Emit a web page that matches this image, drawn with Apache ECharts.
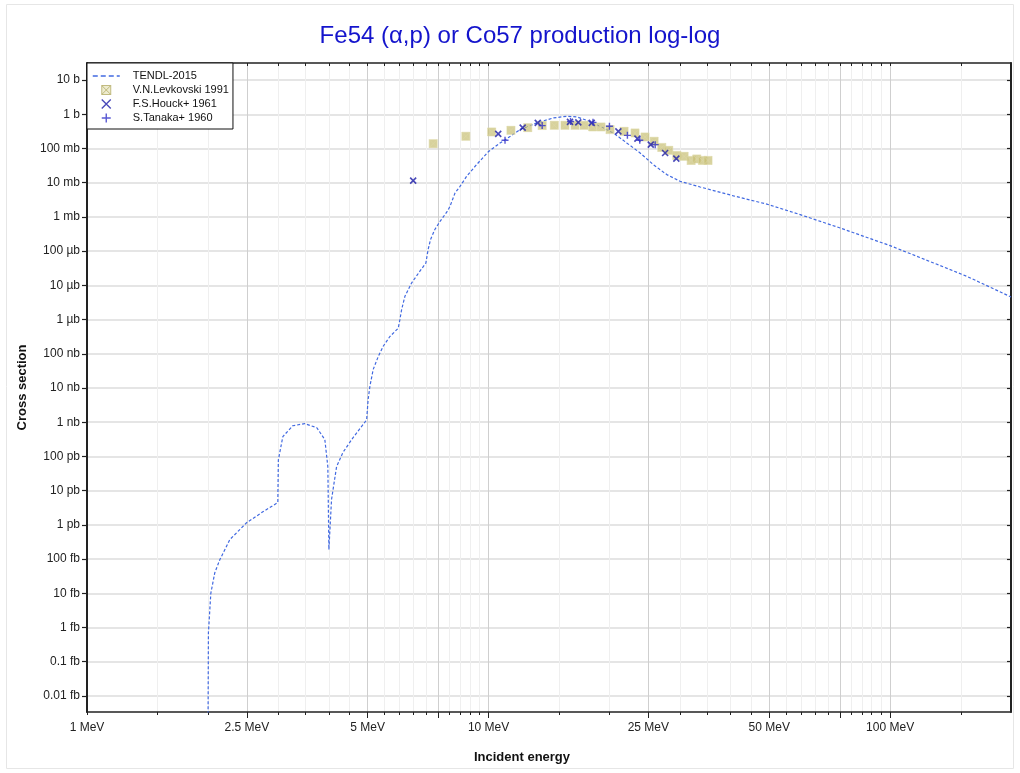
<!DOCTYPE html>
<html><head><meta charset="utf-8">
<script src="https://cdn.jsdelivr.net/npm/echarts@6/dist/echarts.min.js"></script>
<style>html,body{margin:0;padding:0;background:#fff}#c{width:1020px;height:773px}</style>
</head><body><div id="c"></div>
<script>
// ---- data (energy in MeV, cross section in barns) ----
const tendlEnergy = [2.0, 2.006, 2.034, 2.081, 2.141, 2.268, 2.496, 2.741, 2.987, 2.996, 3.074, 3.255, 3.487, 3.736, 3.911, 3.979, 4.003, 4.064, 4.183, 4.337, 4.594, 4.97, 5.013, 5.064, 5.161, 5.312, 5.466, 5.679, 5.957, 6.015, 6.074, 6.19, 6.43, 6.745, 6.98, 7.07, 7.17, 7.35, 7.57, 7.89, 8.01, 8.25, 8.49, 8.82, 9.34, 9.98, 10.68, 11.0, 11.97, 13.18, 14.5, 15.65, 16.58, 17.56, 18.95, 20.45, 22.08, 23.84, 25.73, 27.79, 29.99, 33.64, 40.73, 49.3, 59.7, 75.1, 100, 128.3, 155.4, 200];
const tendlXs = [1e-19, 6.9e-16, 1.0e-14, 4.0e-14, 9.5e-14, 3.7e-13, 1.15e-12, 2.4e-12, 4.5e-12, 7.9e-11, 3.8e-10, 7.9e-10, 9.1e-10, 6.9e-10, 3.1e-10, 5.0e-11, 1.9e-13, 5.5e-12, 5.0e-11, 1.3e-10, 3.5e-10, 1.17e-9, 4.6e-9, 1.12e-8, 3.5e-8, 8.3e-8, 1.66e-7, 3.2e-7, 5.6e-7, 1.0e-6, 1.95e-6, 4.8e-6, 1.17e-5, 2.6e-5, 4.5e-5, 1.1e-4, 2.2e-4, 4.3e-4, 7.4e-4, 1.45e-3, 2.0e-3, 5.0e-3, 7.8e-3, 1.55e-2, 3.4e-2, 8.0e-2, 0.145, 0.18, 0.357, 0.561, 0.785, 0.875, 0.84, 0.668, 0.446, 0.286, 0.146, 0.0743, 0.0338, 0.0173, 0.011, 0.00753, 0.00414, 0.00237, 0.00117, 4.76e-4, 1.45e-4, 4.52e-5, 1.83e-5, 4.58e-6];

const levkovskiEnergy = [7.28, 8.78, 10.18, 11.37, 12.52, 13.6, 14.58, 15.5, 16.42, 17.29, 18.17, 19.06, 20.07, 21.75, 23.16, 24.53, 25.84, 27.0, 28.1, 29.43, 30.69, 31.95, 33.0, 34.09, 35.2];
const levkovskiXs = [0.139, 0.228, 0.306, 0.340, 0.408, 0.47, 0.477, 0.477, 0.477, 0.477, 0.428, 0.428, 0.357, 0.318, 0.286, 0.218, 0.163, 0.108, 0.0885, 0.063, 0.059, 0.045, 0.0497, 0.045, 0.045];

const houckEnergy = [6.49, 10.57, 12.16, 13.26, 15.95, 16.73, 18.07, 21.05, 23.48, 25.35, 27.52, 29.35];
const houckXs = [0.0115, 0.267, 0.408, 0.561, 0.600, 0.583, 0.561, 0.318, 0.195, 0.130, 0.074, 0.0507];

const tanakaEnergy = [10.99, 13.6, 16.0, 18.2, 20.0, 22.17, 23.8, 26.0];
const tanakaXs = [0.174, 0.468, 0.615, 0.583, 0.446, 0.243, 0.174, 0.130];

const seriesNames = ['TENDL-2015', 'V.N.Levkovski 1991', 'F.S.Houck+ 1961', 'S.Tanaka+ 1960'];

// ---- axis ticks / labels ----
const xTickValues = [1, 1.5, 2, 2.5, 3, 3.5, 4, 4.5, 5, 5.5, 6, 6.5, 7, 7.5, 8, 8.5, 9, 9.5, 10, 15, 20, 25, 30, 35, 40, 45, 50, 55, 60, 65, 70, 75, 80, 85, 90, 95, 100, 150];
const xMajorValues = [2.5, 5, 7.5, 10, 25, 50, 75, 100];
const xLabelValues = [1, 2.5, 5, 10, 25, 50, 100];
const xLabelTexts = ['1 MeV', '2.5 MeV', '5 MeV', '10 MeV', '25 MeV', '50 MeV', '100 MeV'];
const yTickExponents = [-17, -16, -15, -14, -13, -12, -11, -10, -9, -8, -7, -6, -5, -4, -3, -2, -1, 0, 1];
const yLabelTexts = ['0.01 fb', '0.1 fb', '1 fb', '10 fb', '100 fb', '1 pb', '10 pb', '100 pb', '1 nb', '10 nb', '100 nb', '1 µb', '10 µb', '100 µb', '1 mb', '10 mb', '100 mb', '1 b', '10 b'];

const yTickValues = yTickExponents.map(e => Math.pow(10, e));
const zip = (a, b) => a.map((v, i) => [v, b[i]]);

const mainFont = '"Liberation Sans",Arial,sans-serif';
const X_MIN = 1, X_MAX = 200;
const Y_MIN = Math.pow(10, -17.47), Y_MAX = Math.pow(10, 1.5);

function xLabelFmt(v) {
  let best = 0, bd = Infinity;
  xLabelValues.forEach((t, i) => { const d = Math.abs(Math.log10(t) - Math.log10(v)); if (d < bd) { bd = d; best = i; } });
  return xLabelTexts[best];
}
function yLabelFmt(v) {
  const e = Math.round(Math.log10(v));
  const i = yTickExponents.indexOf(e);
  return i >= 0 ? yLabelTexts[i] : '';
}

const LEV_PATH = 'path://M0,0L10,0L10,10L0,10ZM0,0L10,10M10,0L0,10';
const X_PATH = 'path://M0,0L10,10M10,0L0,10';
const PLUS_PATH = 'path://M5,0L5,10M0,5L10,5';

const chart = echarts.init(document.getElementById('c'), null, { renderer: 'canvas' });
chart.setOption({
  animation: false,
  backgroundColor: '#fff',
  title: {
    text: 'Fe54 (α,p) or Co57 production log-log',
    left: 520, top: 24, padding: 0, textAlign: 'center',
    textStyle: { fontSize: 24, fontWeight: 'normal', color: '#1414cc', fontFamily: mainFont }
  },
  graphic: [{
    type: 'rect', z: 0, silent: true,
    shape: { x: 6.5, y: 4.5, width: 1007, height: 764 },
    style: { fill: 'none', stroke: '#e6e6e6', lineWidth: 1 }
  }],
  grid: { left: 87, top: 63, width: 924, height: 649, containLabel: false },
  legend: {
    left: 87, top: 63, orient: 'vertical',
    backgroundColor: '#fff', borderColor: '#111', borderWidth: 1, borderRadius: 0,
    padding: [6, 4, 4, 5], itemGap: 0, itemWidth: 27, itemHeight: 9,
    selectedMode: false, z: 10,
    textStyle: { fontSize: 11, color: '#111', lineHeight: 14, padding: [0, 0, 0, 8], fontFamily: mainFont },
    data: [
      { name: seriesNames[0], lineStyle: { type: [5, 3], width: 1.5 }, itemStyle: { color: 'rgba(0,0,0,0)', borderWidth: 0, opacity: 0 } },
      { name: seriesNames[1], itemStyle: { color: 'rgba(232,228,190,0.9)', borderColor: '#b4ad66', borderWidth: 1 } },
      { name: seriesNames[2], itemStyle: { borderWidth: 1.4 } },
      { name: seriesNames[3], itemStyle: { borderWidth: 1.4 } }
    ]
  },
  xAxis: [
    {
      type: 'log', logBase: 10, min: X_MIN, max: X_MAX, position: 'bottom',
      name: 'Incident energy', nameLocation: 'middle', nameGap: 39,
      nameTextStyle: { fontWeight: 'bold', fontSize: 13, color: '#111', fontFamily: mainFont, padding: [0, 54, 0, 0] },
      axisLine: { show: true, onZero: false, lineStyle: { color: '#222', width: 1.5 } },
      axisTick: { show: true, customValues: xTickValues, length: 3, lineStyle: { color: '#222', width: 1 } },
      axisLabel: { show: true, customValues: xLabelValues, formatter: xLabelFmt, margin: 10, fontSize: 12, color: '#222', fontFamily: mainFont },
      splitLine: { show: true, lineStyle: { color: '#efefef', width: 1 } },
      minorTick: { show: false }, minorSplitLine: { show: false }
    },
    {
      type: 'log', logBase: 10, min: X_MIN, max: X_MAX, position: 'bottom',
      axisLine: { show: false },
      axisTick: { show: true, customValues: xMajorValues, length: 6, lineStyle: { color: '#222', width: 1 } },
      axisLabel: { show: false },
      splitLine: { show: true, lineStyle: { color: '#cfcfcf', width: 1 } }
    },
    {
      type: 'log', logBase: 10, min: X_MIN, max: X_MAX, position: 'top',
      axisLine: { show: true, onZero: false, lineStyle: { color: '#222', width: 1.5 } },
      axisTick: { show: true, inside: true, customValues: xTickValues, length: 3, lineStyle: { color: '#222', width: 1 } },
      axisLabel: { show: false },
      splitLine: { show: false }
    }
  ],
  yAxis: [
    {
      type: 'log', logBase: 10, min: Y_MIN, max: Y_MAX, position: 'left',
      name: 'Cross section', nameLocation: 'middle', nameGap: 42,
      nameTextStyle: { fontWeight: 'bold', fontSize: 13, color: '#111', fontFamily: mainFont },
      axisLine: { show: true, onZero: false, lineStyle: { color: '#222', width: 2 } },
      axisTick: { show: true, customValues: yTickValues, length: 5, lineStyle: { color: '#222', width: 1.2 } },
      axisLabel: { show: true, customValues: yTickValues, formatter: yLabelFmt, margin: 7, fontSize: 12, color: '#222', fontFamily: mainFont },
      splitLine: { show: true, lineStyle: { color: '#dcdcdc', width: 1.5 } }
    },
    {
      type: 'log', logBase: 10, min: Y_MIN, max: Y_MAX, position: 'right',
      axisLine: { show: true, onZero: false, lineStyle: { color: '#222', width: 2 } },
      axisTick: { show: true, inside: true, customValues: yTickValues, length: 4, lineStyle: { color: '#222', width: 1.2 } },
      axisLabel: { show: false },
      splitLine: { show: false }
    }
  ],
  series: [
    {
      name: seriesNames[0], type: 'line', xAxisIndex: 0, yAxisIndex: 0,
      data: zip(tendlEnergy, tendlXs), symbol: 'none', showSymbol: false, clip: true, z: 3,
      lineStyle: { color: '#4169e1', width: 1.2, type: [3, 2] }, itemStyle: { color: '#4169e1' }
    },
    {
      name: seriesNames[1], type: 'scatter', xAxisIndex: 0, yAxisIndex: 0,
      data: zip(levkovskiEnergy, levkovskiXs), symbol: LEV_PATH, symbolSize: 8, z: 4,
      itemStyle: { color: 'rgba(196,188,110,0.85)', borderColor: '#dcd7a6', borderWidth: 0.8 }
    },
    {
      name: seriesNames[2], type: 'scatter', xAxisIndex: 0, yAxisIndex: 0,
      data: zip(houckEnergy, houckXs), symbol: X_PATH, symbolSize: 6, z: 5,
      itemStyle: { color: 'rgba(0,0,0,0)', borderColor: '#1c1ca8', borderWidth: 1.6 }
    },
    {
      name: seriesNames[3], type: 'scatter', xAxisIndex: 0, yAxisIndex: 0,
      data: zip(tanakaEnergy, tanakaXs), symbol: PLUS_PATH, symbolSize: 7, z: 5,
      itemStyle: { color: 'rgba(0,0,0,0)', borderColor: '#3030c8', borderWidth: 1.4 }
    }
  ]
});
</script></body></html>
